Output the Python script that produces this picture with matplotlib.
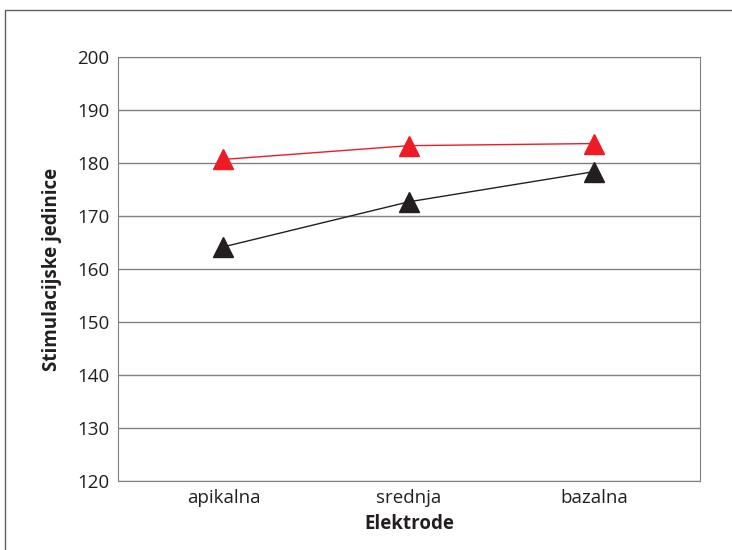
import matplotlib.pyplot as plt
from matplotlib.patches import Rectangle

plt.rcParams['font.family'] = ['Open Sans', 'DejaVu Sans']

kategorije = ['apikalna', 'srednja', 'bazalna']
crvena = [180.7, 183.3, 183.7]
crna = [164.2, 172.7, 178.4]

fig = plt.figure(figsize=(7.32, 5.5), dpi=100)
ax = fig.add_axes([0.161, 0.1255, 0.795, 0.7705])

x = range(len(kategorije))
ax.plot(x, crvena, color='#ed1c24', lw=1, marker='^', ms=15, mec='#ed1c24', zorder=3)
ax.plot(x, crna, color='#231f20', lw=1, marker='^', ms=15, mec='#231f20', zorder=3)

ax.set_ylim(120, 200)
ax.set_xlim(-0.57, 2.57)
ax.set_yticks(range(120, 201, 10))
ax.set_xticks(list(x))
ax.set_xticklabels(kategorije)
ax.yaxis.grid(True, color='#808080', lw=1)
ax.set_axisbelow(True)
ax.tick_params(length=0, labelsize=13.5, colors='#231f20', pad=6)
for s in ax.spines.values():
    s.set_color('#808080')

ax.set_xlabel('Elektrode', fontsize=13.5, fontweight='bold', color='#231f20', labelpad=5)
ax.set_ylabel('Stimulacijske jedinice', fontsize=13.5, fontweight='bold', color='#231f20', labelpad=11)

# okvir oko grafikona
fig.patches.append(Rectangle((5 / 732, -0.01), 1.0, 1 - 10 / 550 + 0.01, transform=fig.transFigure,
                             fill=False, edgecolor='#606060', lw=1))

fig.savefig('out.png', dpi=100)
